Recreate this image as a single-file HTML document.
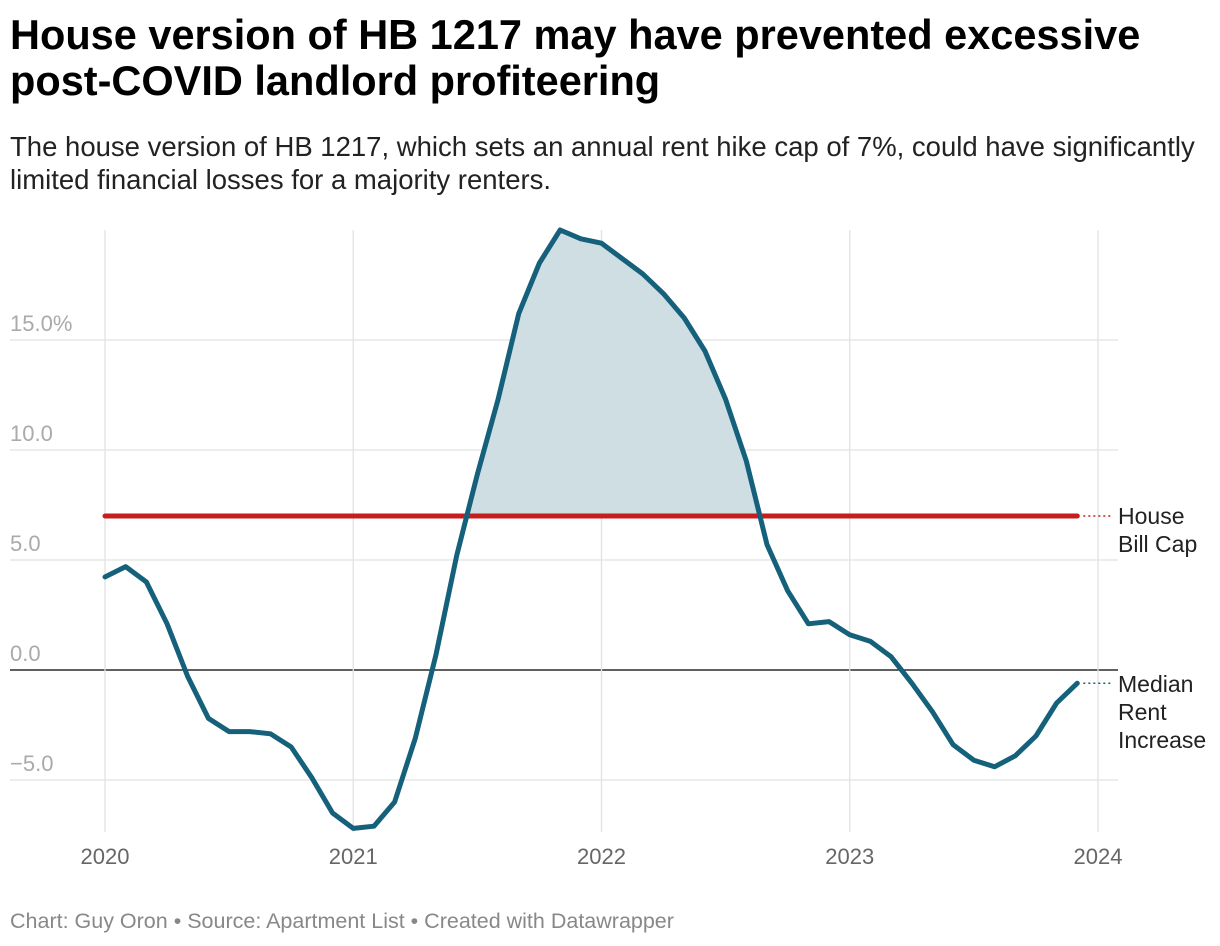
<!DOCTYPE html>
<html><head><meta charset="utf-8"><style>
body{margin:0;background:#fff;font-family:"Liberation Sans",Arial,sans-serif;}
#w{position:relative;width:1220px;height:946px;overflow:hidden}
h1{position:absolute;left:10px;top:12px;margin:0;font-size:41.5px;line-height:46px;font-weight:bold;color:#000;white-space:nowrap}
p.sub{position:absolute;left:10px;top:130px;margin:0;font-size:27.5px;line-height:33px;color:#222;white-space:nowrap}
.foot{position:absolute;left:10px;top:909px;font-size:21.5px;color:#888;white-space:nowrap}
svg{position:absolute;left:0;top:0}
</style></head><body><div id="w">
<h1>House version of HB 1217 may have prevented excessive<br>post-COVID landlord profiteering</h1>
<p class="sub">The house version of HB 1217, which sets an annual rent hike cap of 7%, could have significantly<br>limited financial losses for a majority renters.</p>
<svg id="c" width="1220" height="946"></svg>
<div class="foot">Chart: Guy Oron • Source: Apartment List • Created with Datawrapper</div>
</div>
<script>
const values=[4.23,4.7,4.0,2.1,-0.3,-2.2,-2.8,-2.8,-2.9,-3.5,-4.9,-6.5,-7.2,-7.1,-6.0,-3.1,0.7,5.2,8.9,12.3,16.2,18.5,20.0,19.6,19.4,18.7,18.0,17.1,16.0,14.5,12.3,9.5,5.7,3.6,2.1,2.2,1.6,1.3,0.6,-0.6,-1.9,-3.4,-4.1,-4.4,-3.9,-3.0,-1.5,-0.6];
const capValue=7;
const yTicks=[-5,0,5,10,15];
const yTickLabels=["−5.0","0.0","5.0","10.0","15.0%"];
const xTicks=[2020,2021,2022,2023,2024];
const NS="http://www.w3.org/2000/svg",svg=document.getElementById('c');
const y=v=>670-22*v, x=yr=>105+(yr-2020)*248.25, xm=i=>x(2020+i/12);
function mk(t,a,p){const e=document.createElementNS(NS,t);for(const k in a)e.setAttribute(k,a[k]);(p||svg).appendChild(e);return e;}
yTicks.forEach((v,i)=>{
 const l=mk('line',{x1:10,x2:1118,y1:y(v),y2:y(v),stroke:v===0?'#000':'#e2e2e2','stroke-width':1.3});
 
 const t=mk('text',{x:10,y:y(v)-9,'font-size':22,fill:'#aaa'});t.textContent=yTickLabels[i];
 
});
xTicks.forEach(yr=>{
 const l=mk('line',{x1:x(yr),x2:x(yr),y1:230,y2:832,stroke:'#e2e2e2','stroke-width':1.3});
 
 const t=mk('text',{x:x(yr),y:864,'font-size':22,fill:'#666','text-anchor':'middle'});t.textContent=yr;
 
});
const defs=mk('defs',{});const cp=mk('clipPath',{id:'cl'},defs);mk('rect',{x:0,y:0,width:1220,height:y(capValue)},cp);
let d=values.map((v,i)=>(i?'L':'M')+xm(i)+','+y(v)).join(' ');
const area=mk('path',{d:d+` L${xm(values.length-1)},${y(capValue)} L${xm(0)},${y(capValue)} Z`,fill:'#cfdee3','clip-path':'url(#cl)'});

const cap=mk('line',{x1:xm(0),x2:xm(values.length-1),y1:y(capValue),y2:y(capValue),stroke:'#c71e1d','stroke-width':5,'stroke-linecap':'round'});

const ln=mk('path',{d:d,fill:'none',stroke:'#15607a','stroke-width':5,'stroke-linejoin':'round','stroke-linecap':'round'});

const last=xm(values.length-1);
const d1=mk('line',{x1:last+6,x2:1112,y1:y(capValue),y2:y(capValue),stroke:'#c71e1d','stroke-width':1.5,'stroke-dasharray':'2,3'});

const d2=mk('line',{x1:last+6,x2:1112,y1:y(values[values.length-1]),y2:y(values[values.length-1]),stroke:'#15607a','stroke-width':1.5,'stroke-dasharray':'2,3'});

function lab(lines,y0,name){const t=mk('text',{x:1118,y:y0,'font-size':23,fill:'#222'});
 lines.forEach((s,i)=>{const ts=mk('tspan',{x:1118,dy:i?28:0},t);ts.textContent=s;});
 }
lab(["House","Bill Cap"],y(capValue)+8,'house-bill-cap-label');
lab(["Median","Rent","Increase"],y(values[values.length-1])+9,'median-rent-increase-label');
</script></body></html>
